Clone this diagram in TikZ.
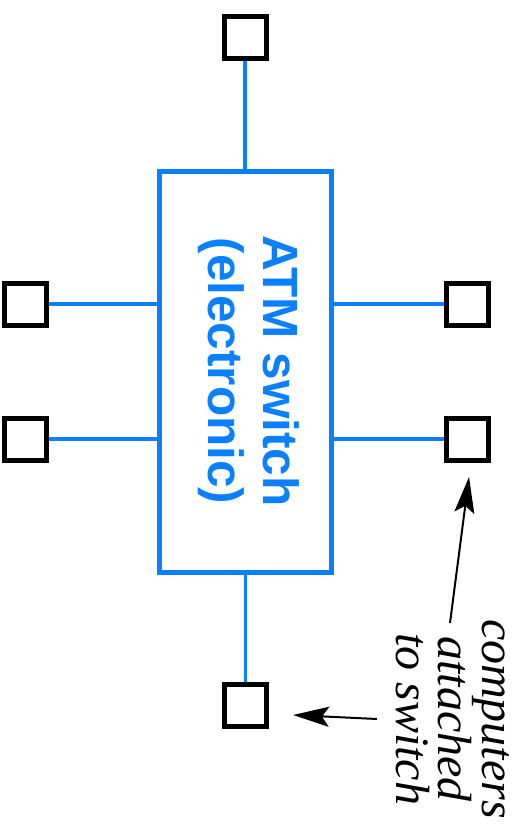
\documentclass[tikz,border=0pt]{standalone}
\usepackage{fontspec}
\setmainfont{Liberation Serif}
\setsansfont{Liberation Sans}
\usetikzlibrary{arrows.meta}
\definecolor{atmblue}{RGB}{10,128,255}
\begin{document}
\begin{tikzpicture}[x=1pt,y=-1pt,
  comp/.style={draw=black,line width=5pt,minimum size=42pt,inner sep=0pt},
  link/.style={draw=atmblue,line width=3.4pt},
  pointer/.style={draw=black,line width=2pt,-{Stealth[length=36pt,width=20pt,inset=7pt]}}]
\useasboundingbox (0,0) rectangle (521,827);
\node[draw=atmblue,line width=4.8pt,minimum width=172pt,minimum height=401pt,inner sep=0pt] (sw) at (245.5,372) {};
\node[rotate=-90,align=center,text=atmblue,font=\sffamily\bfseries\fontsize{49.5}{55}\selectfont] (lbl) at (249,371) {ATM switch\\(electronic)};
\node[comp] (ct) at (245,37.5) {};
\node[comp] (cb) at (245.5,705) {};
\node[comp] (cl1) at (25,304) {};
\node[comp] (cl2) at (25,439) {};
\node[comp] (cr1) at (467,304) {};
\node[comp] (cr2) at (467,439) {};
\draw[link] (ct.south) -- (ct.south |- sw.north);
\draw[link] (cb.north) -- (cb.north |- sw.south);
\draw[link] (cl1.east) -- (cl1.east -| sw.west);
\draw[link] (cl2.east) -- (cl2.east -| sw.west);
\draw[link] (cr1.west) -- (cr1.west -| sw.east);
\draw[link] (cr2.west) -- (cr2.west -| sw.east);
\node[rotate=-90,align=center,font=\itshape\fontsize{48}{42}\selectfont] (note) at (453,719) {computers\\attached\\to switch};
\coordinate (t1) at (450,623);
\coordinate (h1) at (469,477);
\coordinate (t2) at (377,719);
\coordinate (h2) at (293,715);
\draw[pointer] (t1) -- (h1);
\draw[pointer] (t2) -- (h2);
\end{tikzpicture}
\end{document}
